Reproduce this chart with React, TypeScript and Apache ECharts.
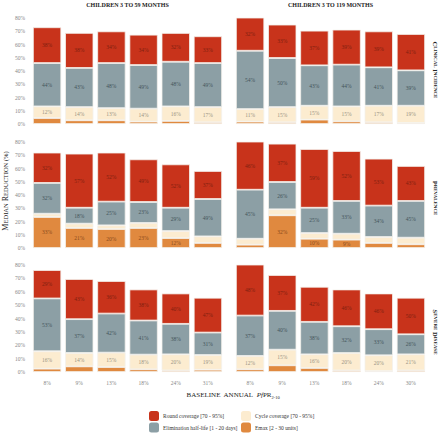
import React, { useEffect, useRef } from "react";
import * as echarts from "echarts";

// Baseline annual PfPR categories
const catsYoung = ["8%", "9%", "13%", "18%", "24%", "31%"];
const catsOld = ["8%", "9%", "13%", "18%", "24%", "30%"];

// Panels: 0 clinical 3-59, 1 clinical 3-119, 2 prevalence 3-59, 3 prevalence 3-119, 4 severe 3-59, 5 severe 3-119
// Segment heights (median reduction, %)
const emaxSeg = [
  [4.5, 2.8, 2.8, 1.8, 2.3, 1.3],
  [1.8, 1.3, 3.3, 2.0, 1.3, 0.8],
  [23.4, 15.1, 14.3, 15.1, 7.5, 3.8],
  [2.5, 24.7, 7.0, 6.3, 3.8, 2.8],
  [2.5, 4.2, 3.7, 2.0, 1.2, 1.7],
  [2.0, 5.0, 3.0, 1.2, 0.7, 1.2],
];
const cycleSeg = [
  [8.8, 10.0, 9.2, 9.8, 11.0, 11.5],
  [9.5, 11.5, 10.5, 11.3, 12.5, 13.0],
  [2.5, 3.3, 2.8, 3.8, 5.3, 5.0],
  [4.5, 4.5, 4.3, 4.5, 4.5, 5.0],
  [13.0, 10.0, 10.8, 11.0, 12.0, 11.0],
  [10.0, 11.7, 10.2, 13.0, 11.8, 12.0],
];
const halfSeg = [
  [32.7, 29.5, 34.0, 32.9, 33.7, 33.2],
  [44.0, 37.0, 30.5, 31.5, 29.0, 26.7],
  [23.2, 12.0, 17.9, 15.8, 17.6, 28.2],
  [37.0, 20.6, 19.1, 24.7, 23.7, 27.7],
  [39.5, 25.3, 29.2, 25.5, 22.8, 16.8],
  [30.2, 29.0, 24.3, 20.0, 19.5, 15.0],
];
const roundSeg = [
  [27.0, 26.4, 23.9, 22.9, 21.7, 20.2],
  [26.5, 25.2, 26.1, 26.4, 27.1, 27.4],
  [22.9, 40.8, 37.0, 32.2, 32.7, 21.1],
  [37.8, 28.9, 44.3, 37.7, 35.4, 26.4],
  [21.2, 30.0, 24.3, 23.2, 22.7, 26.0],
  [39.0, 26.8, 26.2, 27.5, 26.7, 27.3],
];

// Share labels (% of the reduction), null = not shown
const roundLbl = [
  [38, 38, 34, 34, 32, 33],
  [32, 33, 37, 39, 39, 41],
  [32, 57, 52, 49, 52, 37],
  [46, 37, 59, 52, 53, 43],
  [29, 43, 36, 38, 40, 47],
  [48, 37, 42, 46, 46, 50],
];
const halfLbl = [
  [44, 43, 48, 49, 48, 49],
  [54, 50, 43, 44, 41, 39],
  [32, 18, 25, 23, 29, 49],
  [45, 26, 25, 33, 34, 45],
  [53, 37, 42, 41, 38, 31],
  [37, 40, 38, 32, 33, 26],
];
const cycleLbl = [
  [12, 14, 13, 14, 16, 17],
  [11, 15, 15, 15, 17, 19],
  [null, null, null, null, null, null],
  [null, null, null, null, null, null],
  [16, 14, 15, 18, 20, 19],
  [12, 15, 16, 20, 20, 21],
];
const emaxLbl = [
  [null, null, null, null, null, null],
  [null, null, null, null, null, null],
  [33, 21, 20, 23, 12, null],
  [null, 32, 10, 9, null, null],
  [null, null, null, null, null, null],
  [null, null, null, null, null, null],
];

const yTicks = [0, 80, 10];
const columnTitles = ["CHILDREN 3 TO 59 MONTHS", "CHILDREN 3 TO 119 MONTHS"];
const rowTitles = ["CLINICAL INCIDENCE", "PREVALENCE", "SEVERE DISEASE"];

const NAME_ROUND = "Round coverage [70 - 95%]";
const NAME_HALF = "Elimination half-life [1 - 20 days]";
const NAME_CYCLE = "Cycle coverage [70 - 95%]";
const NAME_EMAX = "Emax [2 - 30 units]";

const C_RED = "#c8331b";
const C_GREY = "#8c9fa5";
const C_CREAM = "#fcecd0";
const C_ORANGE = "#e0893f";

const FONT = "Liberation Serif";

const colLeft = [31, 234];
const colWidth = 193;
const rowTop = [18, 142, 265];
const rowHeight = [106, 106, 107];

function smallCaps(s: string, big: number, small: number) {
  // build rich text emulating small caps
  const parts: string[] = [];
  s.split(" ").forEach((w, i) => {
    const sep = i > 0 ? " " : "";
    if (/^[A-Z]/.test(w)) {
      parts.push(`{b|${sep}${w[0]}}`);
      if (w.length > 1) parts.push(`{s|${w.slice(1)}}`);
    } else {
      parts.push(`{s|${sep}${w}}`);
    }
  });
  return {
    text: parts.join(""),
    rich: {
      b: { fontSize: big, fontFamily: FONT, fill: "#222", fontWeight: "bold" },
      s: { fontSize: small, fontFamily: FONT, fill: "#222", fontWeight: "bold" },
    },
  };
}

export default function App() {
  const ref = useRef<HTMLDivElement>(null);
  useEffect(() => {
    if (!ref.current) return;
    const chart = echarts.init(ref.current, null, { renderer: "svg" });

    const grids: any[] = [];
    const xAxes: any[] = [];
    const yAxes: any[] = [];
    const series: any[] = [];

    for (let p = 0; p < 6; p++) {
      const row = Math.floor(p / 2);
      const col = p % 2;
      grids.push({
        left: colLeft[col],
        top: rowTop[row],
        width: colWidth,
        height: rowHeight[row],
      });
      xAxes.push({
        type: "category",
        gridIndex: p,
        data: col === 0 ? catsYoung : catsOld,
        axisLine: { show: false },
        axisTick: { show: false },
        axisLabel: {
          show: row === 2,
          fontSize: 5.5,
          color: "#888",
          fontFamily: FONT,
          margin: 8,
        },
      });
      yAxes.push({
        type: "value",
        gridIndex: p,
        min: yTicks[0],
        max: yTicks[1],
        interval: yTicks[2],
        splitLine: { show: false },
        axisLine: { show: false },
        axisTick: { show: false },
        axisLabel: {
          show: col === 0,
          formatter: "{value}%",
          fontSize: 5.5,
          color: "#888",
          fontFamily: FONT,
          margin: 6,
        },
      });

      const mk = (
        name: string,
        seg: number[][],
        lbl: (number | null)[][],
        color: string,
        lblColor: string
      ) => ({
        type: "bar",
        name,
        xAxisIndex: p,
        yAxisIndex: p,
        stack: "s" + p,
        barCategoryGap: "12%",
        data: seg[p],
        itemStyle: { color, borderColor: "#f4f1ec", borderWidth: 0.8 },
        label: {
          show: true,
          position: "inside",
          fontSize: 5.5,
          fontFamily: FONT,
          color: lblColor,
          formatter: (prm: any) => {
            const v = lbl[p][prm.dataIndex];
            return v == null ? "" : v + "%";
          },
        },
        emphasis: { disabled: true },
      });

      series.push(mk(NAME_EMAX, emaxSeg, emaxLbl, C_ORANGE, "#8a4a1c"));
      series.push(mk(NAME_CYCLE, cycleSeg, cycleLbl, C_CREAM, "#9a9484"));
      series.push(mk(NAME_HALF, halfSeg, halfLbl, C_GREY, "#44555b"));
      series.push(mk(NAME_ROUND, roundSeg, roundLbl, C_RED, "#7e2010"));
    }

    const graphics: any[] = [];
    // column titles
    columnTitles.forEach((t, i) => {
      graphics.push({
        type: "text",
        x: colLeft[i] + colWidth / 2,
        y: 5,
        style: {
          text: t,
          fontSize: 6,
          fontWeight: "bold",
          fontFamily: FONT,
          fill: "#222",
          align: "center",
          verticalAlign: "middle",
          textAlign: "center",
          textVerticalAlign: "middle",
        },
      });
    });
    // row titles (rotated)
    const rowCenters = [70, 198, 332];
    rowTitles.forEach((t, i) => {
      const sc = smallCaps(t, 6.5, 5);
      graphics.push({
        type: "text",
        x: 435,
        y: rowCenters[i],
        rotation: -Math.PI / 2,
        style: {
          text: sc.text,
          rich: sc.rich,
          align: "center",
          verticalAlign: "middle",
          textAlign: "center",
          textVerticalAlign: "middle",
        },
      });
    });
    // y axis name
    const yn = smallCaps("MEDIAN REDUCTION (%)", 8, 6.5);
    graphics.push({
      type: "text",
      x: 5,
      y: 191,
      rotation: Math.PI / 2,
      style: {
        text: yn.text,
        rich: {
          b: { ...yn.rich.b, fontWeight: "normal" },
          s: { ...yn.rich.s, fontWeight: "normal" },
        },
        align: "center",
        verticalAlign: "middle",
        textAlign: "center",
        textVerticalAlign: "middle",
      },
    });
    // x axis name
    graphics.push({
      type: "text",
      x: 233,
      y: 395,
      style: {
        text: "{a|BASELINE  ANNUAL  }{i|Pf}{a|PR}{s|2-10}",
        rich: {
          a: { fontSize: 7, fontFamily: FONT, fill: "#222", lineHeight: 10 },
          i: { fontSize: 7, fontFamily: FONT, fill: "#222", fontStyle: "italic", lineHeight: 10 },
          s: { fontSize: 4.5, fontFamily: FONT, fill: "#222", lineHeight: 10, verticalAlign: "bottom", padding: [3, 0, 0, 0] },
        },
        align: "center",
        verticalAlign: "middle",
        textAlign: "center",
        textVerticalAlign: "middle",
      },
    });

    const legendCommon = {
      orient: "vertical",
      top: 411,
      itemWidth: 10,
      itemHeight: 10,
      itemGap: 1.5,
      padding: 0,
      selectedMode: false,
      itemStyle: { borderWidth: 0 },
      textStyle: { fontSize: 5.5, fontFamily: FONT, color: "#333", padding: [0, 0, 0, -1] },
    };

    chart.setOption({
      animation: false,
      backgroundColor: "#ffffff",
      textStyle: { fontFamily: FONT },
      grid: grids,
      xAxis: xAxes,
      yAxis: yAxes,
      series,
      legend: [
        { ...legendCommon, left: 149, data: [NAME_ROUND, NAME_HALF] },
        { ...legendCommon, left: 241, data: [NAME_CYCLE, NAME_EMAX] },
      ],
      graphic: graphics,
    });

    return () => chart.dispose();
  }, []);

  return (
    <div
      ref={ref}
      style={{ position: "absolute", left: 0, top: 0, width: 440, height: 437 }}
    />
  );
}
